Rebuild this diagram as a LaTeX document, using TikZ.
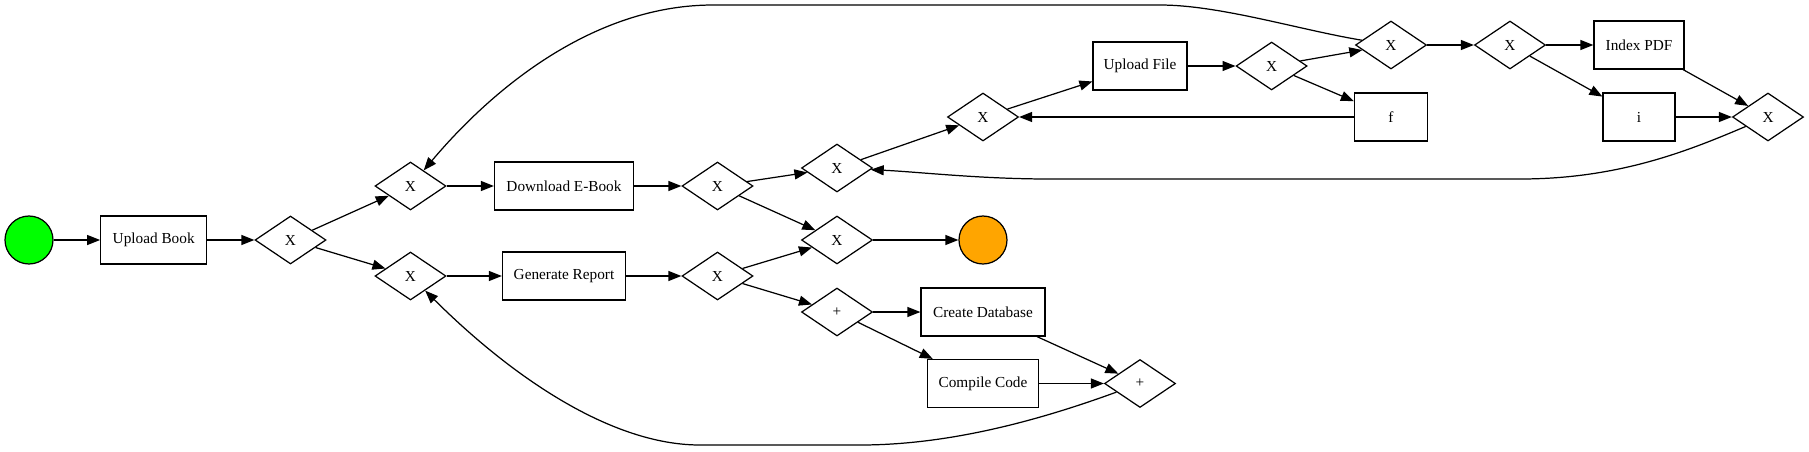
\documentclass[tikz,border=0pt]{standalone}
\usepackage{fontspec}
\setmainfont{Liberation Serif}
\usetikzlibrary{shapes.geometric,arrows.meta}
\definecolor{startgreen}{RGB}{0,255,0}
\definecolor{endorange}{RGB}{255,165,0}

\begin{document}
\begin{tikzpicture}[x=0.02cm,y=-0.02cm,
  every node/.style={font=\fontsize{8.7}{10}\selectfont},
  task/.style={draw,rectangle,minimum height=0.96cm,inner sep=0pt,line width=0.7pt},
  gate/.style={draw,diamond,minimum width=1.42cm,minimum height=0.96cm,inner sep=0pt,line width=0.7pt},
  event/.style={draw,circle,minimum size=0.96cm,inner sep=0pt,line width=0.7pt},
  flow/.style={-{Triangle[length=0.26cm,width=0.2cm]},line width=0.7pt}]
\useasboundingbox (0,0) rectangle (1809,451);
\node[event,fill=startgreen] (start) at (29,240) {};
\node[task,minimum width=2.12cm] (upbook) at (153.7,240) {Upload Book};
\node[gate] (gw1) at (290.5,240) {X};
\node[gate] (gwa) at (410.5,186) {X}; \node[gate] (gwb) at (410.5,276) {X};
\node[task,minimum width=2.78cm] (dlbook) at (564,186) {Download E-Book};
\node[task,minimum width=2.46cm] (genrep) at (564,276) {Generate Report};
\node[gate] (gw3) at (717.5,186) {X}; \node[gate] (gw4) at (717.5,276) {X};
\node[gate] (gwc) at (837,168) {X}; \node[gate] (gwm) at (837,240) {X}; \node[gate] (par1) at (837,312) {+};
\node[gate] (gwd) at (983,117) {X};
\node[event,fill=endorange] (finish) at (983,240) {};
\node[task,minimum width=2.48cm] (createdb) at (983,312) {Create Database};
\node[task,minimum width=2.22cm] (compile) at (983,383.5) {Compile Code};
\node[task,minimum width=1.88cm] (upfile) at (1140,66) {Upload File};
\node[gate] (par2) at (1140,383.5) {+};
\node[gate] (gw7) at (1271.6,66) {X};
\node[gate] (gw8) at (1391,45) {X};
\node[task,minimum width=1.46cm] (ftask) at (1391,117) {f};
\node[gate] (gw9) at (1510,45) {X};
\node[task,minimum width=1.8cm] (indexpdf) at (1639,45) {Index PDF};
\node[task,minimum width=1.44cm] (itask) at (1639,117) {i};
\node[gate] (gw10) at (1768,117) {X};
\draw[flow] (start) -- (upbook);
\draw[flow] (upbook) -- (gw1);
\draw[flow] (gw1) -- (gwa); \draw[flow] (gw1) -- (gwb);
\draw[flow] (gwa) -- (dlbook); \draw[flow] (gwb) -- (genrep);
\draw[flow] (dlbook) -- (gw3); \draw[flow] (genrep) -- (gw4);
\draw[flow] (gw3) -- (gwc); \draw[flow] (gw3) -- (gwm);
\draw[flow] (gw4) -- (gwm); \draw[flow] (gw4) -- (par1);
\draw[flow] (gwm) -- (finish);
\draw[flow] (par1) -- (createdb); \draw[flow] (par1) -- (compile);
\draw[flow] (createdb) -- (par2); \draw[flow] (compile) -- (par2);
\draw[flow] (gwc) -- (gwd);
\draw[flow] (gwd) -- (upfile);
\draw[flow] (upfile) -- (gw7);
\draw[flow] (gw7) -- (gw8); \draw[flow] (gw7) -- (ftask);
\draw[flow] (ftask) -- (gwd);
\draw[flow] (gw8) -- (gw9);
\draw[flow] (gw9) -- (indexpdf); \draw[flow] (gw9) -- (itask);
\draw[flow] (indexpdf) -- (gw10); \draw[flow] (itask) -- (gw10);
\draw[flow] (gw8) .. controls (1300,30) and (1220,5) .. (1160,5) -- (713,5) .. controls (600,5) and (500,80) .. (gwa);
\draw[flow] (gw10) .. controls (1690,150) and (1620,179) .. (1520,179) -- (1050,179) .. controls (980,179) and (920,172) .. (gwc);
\draw[flow] (par2) .. controls (1040,420) and (950,445) .. (860,445) -- (700,445) .. controls (610,445) and (510,375) .. (gwb);
\end{tikzpicture}
\end{document}
